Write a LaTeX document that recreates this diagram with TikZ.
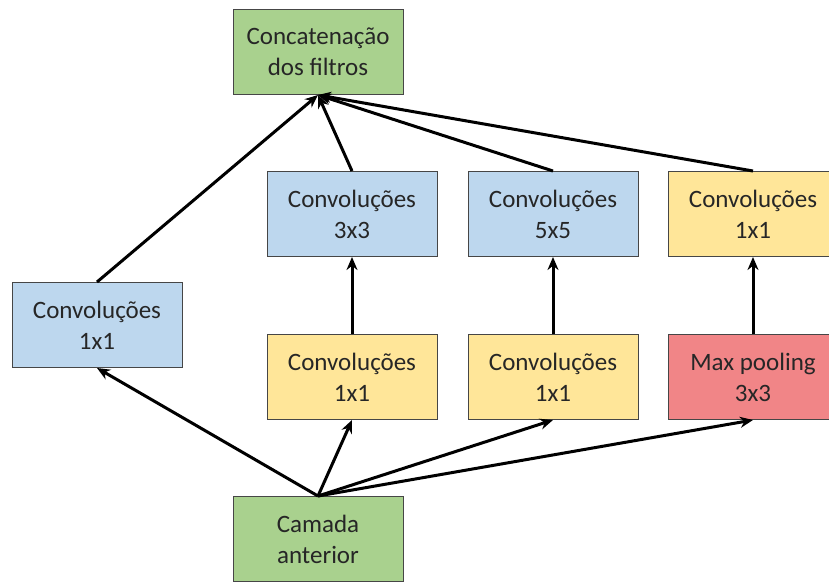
\documentclass[tikz,border=0pt]{standalone}
\usepackage{fontspec}
\setmainfont{Carlito}
\usetikzlibrary{arrows.meta}
\definecolor{verde}{RGB}{169,209,142}
\definecolor{azul}{RGB}{189,215,238}
\definecolor{amarelo}{RGB}{255,230,153}
\definecolor{vermelho}{RGB}{241,133,135}
\definecolor{borda}{RGB}{70,70,70}
\definecolor{texto}{RGB}{38,38,38}
\tikzset{
	caixa/.style={draw=borda, line width=1pt, minimum width=170pt, minimum height=85pt, align=center, text=texto, font=\fontsize{25}{31}\selectfont, inner sep=0pt},
	seta/.style={line width=3pt, -{Stealth[length=13pt,width=11pt]}}
}

\begin{document}
\begin{tikzpicture}[x=1pt, y=-1pt]
		%%%%% START %%%%%
		
		\useasboundingbox (0, 0) rectangle (829, 581);
		\clip (0, 0) rectangle (829, 581);
		
		\node[caixa, fill=verde] (concat) at (318, 52) {Concatenação\\dos filtros};
		\node[caixa, fill=verde] (camada) at (318, 539) {Camada\\anterior};
		
		\node[caixa, fill=azul] (conv1) at (97, 325) {Convoluções\\1x1};
		\node[caixa, fill=azul] (conv3) at (352, 214) {Convoluções\\3x3};
		\node[caixa, fill=azul] (conv5) at (553, 214) {Convoluções\\5x5};
		\node[caixa, fill=amarelo] (convp) at (753, 214) {Convoluções\\1x1};
		
		\node[caixa, fill=amarelo] (red3) at (352, 377) {Convoluções\\1x1};
		\node[caixa, fill=amarelo] (red5) at (553, 377) {Convoluções\\1x1};
		\node[caixa, fill=vermelho] (pool) at (753, 377) {Max pooling\\3x3};
		
		\draw[seta] (camada.north) -- (conv1.south);
		\draw[seta] (camada.north) -- (red3.south);
		\draw[seta] (camada.north) -- (red5.south);
		\draw[seta] (camada.north) -- (pool.south);
		
		\draw[seta] (red3) -- (conv3);
		\draw[seta] (red5) -- (conv5);
		\draw[seta] (pool) -- (convp);
		
		\draw[seta] (conv1.north) -- (concat.south);
		\draw[seta] (conv3.north) -- (concat.south);
		\draw[seta] (conv5.north) -- (concat.south);
		\draw[seta] (convp.north) -- (concat.south);
		
		%%%%% END %%%%%
	\end{tikzpicture}
\end{document}
